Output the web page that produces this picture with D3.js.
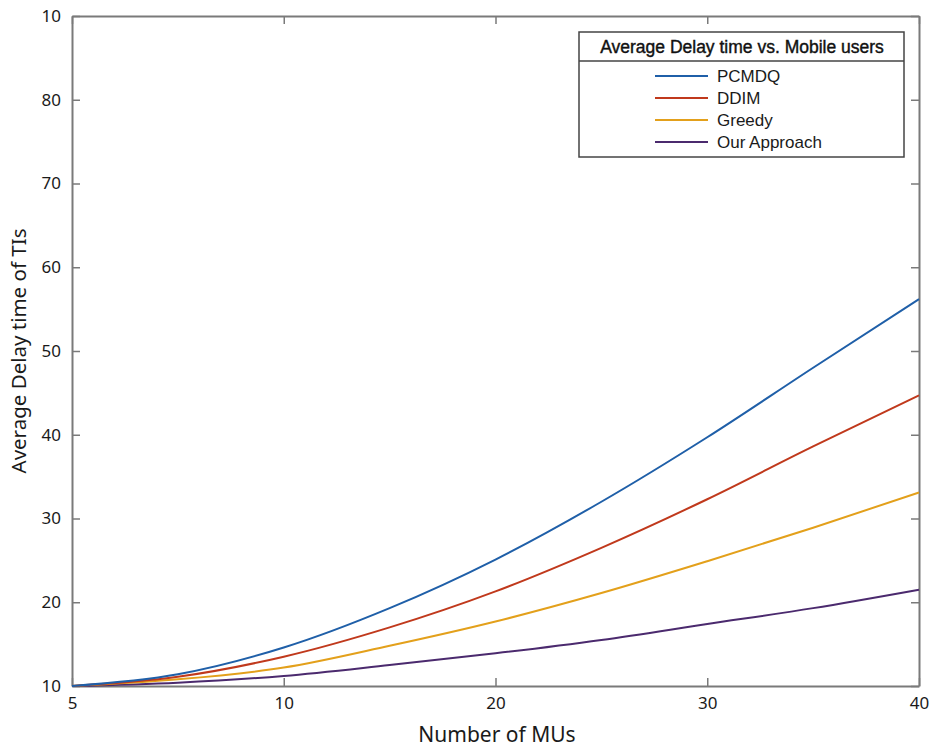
<!DOCTYPE html>
<html><head><meta charset="utf-8">
<script src="https://cdn.jsdelivr.net/npm/d3@7"></script>
<style>body{margin:0;background:#fff;}svg{display:block;}</style>
</head><body>
<svg id="c" width="935" height="749"></svg>
<script>
const xValues = [0, 5, 10, 15, 20, 25, 30, 35, 40];
const xTickValues = [0, 10, 20, 30, 40];
const xTickLabels = ["5", "10", "20", "30", "40"];
const yTickValues = [10, 20, 30, 40, 50, 60, 70, 80, 90];
const yTickLabels = ["10", "20", "30", "40", "50", "60", "70", "80", "10"];
const seriesNames = ["PCMDQ", "DDIM", "Greedy", "Our Approach"];
const pcmdq  = [10, 11.4, 14.6, 19.3, 25.1, 32.0, 39.7, 48.0, 56.2];
const ddim   = [10, 11.1, 13.5, 17.0, 21.3, 26.5, 32.3, 38.6, 44.7];
const greedy = [10, 10.8, 12.2, 14.8, 17.7, 21.1, 24.9, 28.9, 33.1];
const ours   = [10, 10.4, 11.2, 12.5, 13.9, 15.5, 17.4, 19.3, 21.5];
const colors = ["#1f5fa8", "#c0391c", "#e3a01b", "#4b2a6e"];
const legendTitle = "Average Delay time vs. Mobile users";
const xTitle = "Number of MUs";
const yTitle = "Average Delay time of TIs";

const svg = d3.select("#c");
const L = 72, R = 919, T = 16, B = 686;
const x = d3.scaleLinear().domain([0, 40]).range([L, R]);
const y = d3.scaleLinear().domain([10, 90]).range([B, T]);
const axisColor = "#7a7a7a";
const font = "'Noto Sans', 'Open Sans', sans-serif";
const lfont = "'Liberation Sans', Arial, sans-serif";

// axes
const gx = svg.append("g").attr("transform", `translate(0,${B})`)
  .call(d3.axisBottom(x).tickValues(xTickValues).tickFormat((d,i)=>xTickLabels[i]).tickSizeInner(-8).tickSizeOuter(0).tickPadding(11));
const gy = svg.append("g").attr("transform", `translate(${L},0)`)
  .call(d3.axisLeft(y).tickValues(yTickValues).tickFormat((d,i)=>yTickLabels[i]).tickSizeInner(-8).tickSizeOuter(0).tickPadding(11));
const gxt = svg.append("g").attr("transform", `translate(0,${T})`)
  .call(d3.axisTop(x).tickValues(xTickValues).tickFormat("").tickSizeInner(-8).tickSizeOuter(0));
const gyr = svg.append("g").attr("transform", `translate(${R},0)`)
  .call(d3.axisRight(y).tickValues(yTickValues).tickFormat("").tickSizeInner(-8).tickSizeOuter(0));
[gx, gy, gxt, gyr].forEach(g => {
  g.selectAll("path.domain").attr("stroke", axisColor).attr("stroke-width", 2);
  g.selectAll(".tick line").attr("stroke", axisColor).attr("stroke-width", 1.5);
  g.selectAll("text").attr("fill", "#1a1a1a").style("font-family", font).style("font-size", "17px");
});

// lines
const line = d3.line().x((d,i)=>x(xValues[i])).y(d=>y(d)).curve(d3.curveMonotoneX);
const data = [pcmdq, ddim, greedy, ours];
[3,2,1,0].forEach(k => {
  svg.append("path").datum(data[k]).attr("d", line)
    .attr("fill", "none").attr("stroke", colors[k]).attr("stroke-width", 2);
});

// axis titles
svg.append("text").attr("x", 497).attr("y", 742).attr("text-anchor", "middle")
  .style("font-family", font).style("font-size", "21px").attr("fill", "#1a1a1a").text(xTitle);
svg.append("text").attr("transform", `translate(26,${(T+B)/2}) rotate(-90)`).attr("text-anchor", "middle")
  .style("font-family", font).style("font-size", "20.5px").attr("fill", "#1a1a1a").text(yTitle);

// legend
const lg = svg.append("g");
lg.append("rect").attr("x", 579).attr("y", 32).attr("width", 325).attr("height", 125)
  .attr("fill", "#fff").attr("stroke", "#444").attr("stroke-width", 1.5);
lg.append("line").attr("x1", 579).attr("x2", 904).attr("y1", 61).attr("y2", 61)
  .attr("stroke", "#444").attr("stroke-width", 1.5);
lg.append("text").attr("x", 742).attr("y", 53).attr("text-anchor", "middle")
  .style("font-family", lfont).style("font-size", "17.5px")
  .attr("fill", "#111").attr("stroke", "#111").attr("stroke-width", 0.4).text(legendTitle);
seriesNames.forEach((n, k) => {
  const yy = 76 + k * 22;
  lg.append("line").attr("x1", 655).attr("x2", 708).attr("y1", yy).attr("y2", yy)
    .attr("stroke", colors[k]).attr("stroke-width", 2);
  lg.append("text").attr("x", 717).attr("y", yy + 6)
    .style("font-family", lfont).style("font-size", "17px")
    .attr("fill", "#1a1a1a").text(n);
});
</script>
</body></html>
